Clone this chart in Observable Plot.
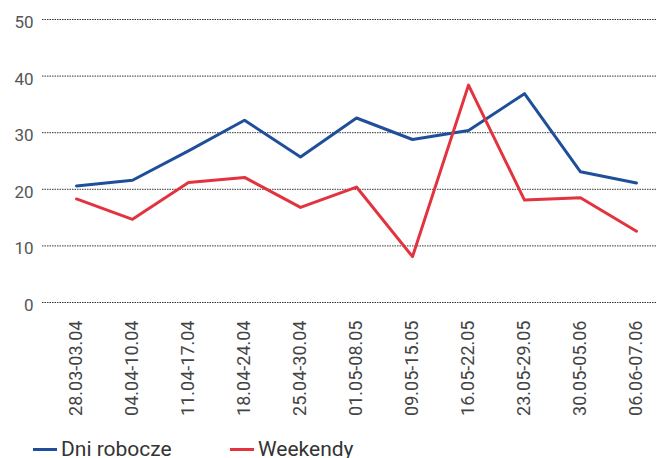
<!DOCTYPE html>
<html>
<head>
<meta charset="utf-8">
<script src="https://cdn.jsdelivr.net/npm/d3@7"></script>
<script src="https://cdn.jsdelivr.net/npm/@observablehq/plot@0.6"></script>
<style>
  html, body { margin: 0; padding: 0; background: #fff; }
  #wrap { position: relative; width: 657px; height: 458px; overflow: hidden; font-family: "Roboto", sans-serif; }
  #legend { position: absolute; left: 0; top: 438px; width: 657px; height: 22px; }
  .item { position: absolute; top: 0; display: flex; align-items: center; font-size: 21px; color: #333; line-height: 22px; }
  .sw { display: inline-block; width: 24px; height: 3px; margin-right: 4px; }
</style>
</head>
<body>
<div id="wrap">
  <div id="chart"></div>
  <div id="legend"></div>
</div>
<script>
const weeks = ["28.03-03.04","04.04-10.04","11.04-17.04","18.04-24.04","25.04-30.04","01.05-08.05","09.05-15.05","16.05-22.05","23.05-29.05","30.05-05.06","06.06-07.06"];
const dniRobocze = [20.6, 21.6, 26.8, 32.2, 25.7, 32.6, 28.8, 30.4, 36.9, 23.1, 21.1];
const weekendy = [18.3, 14.7, 21.2, 22.1, 16.8, 20.4, 8.1, 38.4, 18.1, 18.5, 12.6];
const yTicks = [0, 10, 20, 30, 40, 50];
const seriesNames = ["Dni robocze", "Weekendy"];
const seriesColors = ["#1f4f9b", "#e2333f"];

const data = [];
weeks.forEach((w, i) => {
  data.push({week: w, value: dniRobocze[i], series: seriesNames[0]});
  data.push({week: w, value: weekendy[i], series: seriesNames[1]});
});

const chart = Plot.plot({
  width: 657,
  height: 432,
  marginLeft: 72,
  marginRight: 18,
  marginTop: 19,
  marginBottom: 130,
  style: {fontFamily: '"Roboto", sans-serif', background: "#fff"},
  x: {type: "point", domain: weeks, padding: 0, label: null},
  y: {domain: [0, 50], label: null},
  color: {domain: seriesNames, range: seriesColors},
  marks: [
    Plot.ruleY(yTicks, {stroke: "#333", strokeWidth: 1, strokeDasharray: "1.5,1", insetLeft: -30, insetRight: -18}),
    Plot.axisY(yTicks, {tickSize: 0, tickPadding: 39, fontSize: 17, fill: "#555", dy: 3, label: null}),
    Plot.axisX({tickSize: 0, tickPadding: 18, tickRotate: -90, fontSize: 18, fill: "#444", label: null}),
    Plot.line(data, {x: "week", y: "value", z: "series", stroke: "series", strokeWidth: 3})
  ]
});
document.getElementById("chart").appendChild(chart);

const legend = document.getElementById("legend");
const legendX = [33, 230];
seriesNames.forEach((name, i) => {
  const item = document.createElement("div");
  item.className = "item";
  item.style.left = legendX[i] + "px";
  const sw = document.createElement("span");
  sw.className = "sw";
  sw.style.background = seriesColors[i];
  item.appendChild(sw);
  item.appendChild(document.createTextNode(name));
  legend.appendChild(item);
});
</script>
</body>
</html>
